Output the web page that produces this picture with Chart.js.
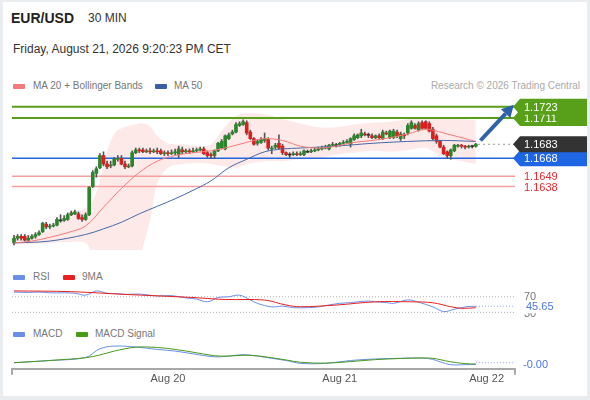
<!DOCTYPE html>
<html>
<head>
<meta charset="utf-8">
<script src="https://cdn.jsdelivr.net/npm/chart.js@4.4.1/dist/chart.umd.min.js"></script>
<style>
  html, body { margin: 0; padding: 0; width: 590px; height: 400px; background: #e9edf0; font-family: "Liberation Sans", Arial, sans-serif; overflow: hidden; }
  #card { position: absolute; left: 3px; top: 2px; width: 584px; height: 394px; background: #fff; }
  .t { position: absolute; white-space: nowrap; line-height: 1; }
  .sw { position: absolute; width: 12px; height: 5px; border-radius: 1px; }
  .leg { font-size: 10px; color: #777; }
  canvas { position: absolute; left: 0; }
</style>
</head>
<body>
<div id="card"></div>
<div class="t" style="left:11px;top:11px;font-size:14px;font-weight:bold;color:#222">EUR/USD</div>
<div class="t" style="left:88px;top:12px;font-size:12px;color:#333">30 MIN</div>
<div class="t" style="left:13px;top:43px;font-size:12px;color:#333">Friday, August 21, 2026 9:20:23 PM CET</div>

<span class="sw" style="left:13px;top:84px;background:#f47a7a"></span>
<div class="t leg" style="left:33px;top:81px">MA 20 + Bollinger Bands</div>
<span class="sw" style="left:155px;top:84px;background:#3b5fa0"></span>
<div class="t leg" style="left:174px;top:81px">MA 50</div>
<div class="t leg" style="right:10px;top:81px;color:#aaa">Research © 2026 Trading Central</div>

<span class="sw" style="left:13px;top:275px;background:#6b8fe6"></span>
<div class="t leg" style="left:33px;top:272px">RSI</div>
<span class="sw" style="left:63px;top:275px;background:#e82020"></span>
<div class="t leg" style="left:82px;top:272px">9MA</div>

<span class="sw" style="left:13px;top:332px;background:#6b8fe6"></span>
<div class="t leg" style="left:33px;top:329px">MACD</div>
<span class="sw" style="left:76px;top:332px;background:#4a9a1a"></span>
<div class="t leg" style="left:95px;top:329px">MACD Signal</div>

<canvas id="cPrice" width="590" height="160" style="top:95px"></canvas>
<canvas id="cRsi" width="590" height="40" style="top:280px"></canvas>
<canvas id="cMacd" width="590" height="60" style="top:335px"></canvas>

<script>
// 30 min candles, oldest first
const opens = [
  1.1578,1.1583,1.1585,1.1585,1.1581,1.1583,1.1585,1.1587,1.1590,1.1598,
  1.1595,1.1596,1.1597,1.1602,1.1602,1.1603,1.1608,1.1609,1.1609,1.1605,
  1.1603,1.1608,1.1638,1.1652,1.1658,1.1671,1.1662,1.1660,1.1661,1.1667,
  1.1668,1.1662,1.1659,1.1660,1.1674,1.1677,1.1677,1.1675,1.1676,1.1675,
  1.1676,1.1676,1.1673,1.1674,1.1673,1.1674,1.1672,1.1677,1.1675,1.1676,
  1.1675,1.1676,1.1677,1.1678,1.1674,1.1672,1.1671,1.1676,1.1679,1.1678,
  1.1689,1.1694,1.1696,1.1703,1.1704,1.1706,1.1696,1.1689,1.1684,1.1685,
  1.1687,1.1688,1.1678,1.1680,1.1684,1.1681,1.1674,1.1672,1.1672,1.1673,
  1.1672,1.1672,1.1675,1.1675,1.1676,1.1677,1.1678,1.1679,1.1678,1.1682,
  1.1682,1.1682,1.1684,1.1685,1.1683,1.1688,1.1690,1.1692,1.1694,1.1693,
  1.1692,1.1690,1.1692,1.1689,1.1695,1.1690,1.1690,1.1696,1.1689,1.1693,
  1.1695,1.1700,1.1703,1.1698,1.1706,1.1707,1.1705,1.1699,1.1692,1.1686,
  1.1680,1.1675,1.1671,1.1676,1.1681,1.1682,1.1681,1.1680,1.1681,1.1681
];
const highs = [
  1.1586,1.1587,1.1587,1.1587,1.1586,1.1587,1.1589,1.1591,1.1600,1.1600,
  1.1598,1.1599,1.1605,1.1608,1.1607,1.1610,1.1612,1.1613,1.1611,1.1608,
  1.1610,1.1638,1.1655,1.1659,1.1673,1.1675,1.1665,1.1665,1.1669,1.1671,
  1.1671,1.1665,1.1662,1.1676,1.1679,1.1679,1.1679,1.1678,1.1679,1.1678,
  1.1679,1.1678,1.1676,1.1676,1.1677,1.1678,1.1681,1.1680,1.1678,1.1678,
  1.1679,1.1679,1.1680,1.1680,1.1676,1.1674,1.1677,1.1685,1.1688,1.1693,
  1.1695,1.1698,1.1706,1.1707,1.1709,1.1708,1.1698,1.1690,1.1688,1.1690,
  1.1695,1.1690,1.1681,1.1684,1.1693,1.1683,1.1675,1.1674,1.1675,1.1675,
  1.1675,1.1677,1.1677,1.1678,1.1679,1.1680,1.1681,1.1682,1.1683,1.1685,
  1.1684,1.1685,1.1687,1.1688,1.1690,1.1694,1.1694,1.1699,1.1696,1.1695,
  1.1694,1.1693,1.1694,1.1698,1.1697,1.1698,1.1699,1.1698,1.1696,1.1695,
  1.1705,1.1708,1.1705,1.1707,1.1708,1.1708,1.1707,1.1701,1.1694,1.1687,
  1.1682,1.1676,1.1678,1.1683,1.1683,1.1683,1.1682,1.1682,1.1682,1.1684
];
const lows = [
  1.1576,1.1581,1.1581,1.1580,1.1580,1.1582,1.1583,1.1586,1.1589,1.1593,
  1.1593,1.1595,1.1596,1.1600,1.1601,1.1602,1.1607,1.1608,1.1603,1.1601,
  1.1602,1.1607,1.1637,1.1648,1.1657,1.1660,1.1657,1.1658,1.1660,1.1665,
  1.1661,1.1657,1.1658,1.1659,1.1673,1.1674,1.1674,1.1674,1.1673,1.1674,
  1.1673,1.1672,1.1671,1.1671,1.1672,1.1672,1.1669,1.1673,1.1674,1.1673,
  1.1674,1.1675,1.1676,1.1672,1.1669,1.1668,1.1668,1.1675,1.1678,1.1677,
  1.1688,1.1693,1.1695,1.1702,1.1703,1.1693,1.1688,1.1682,1.1682,1.1684,
  1.1685,1.1677,1.1673,1.1678,1.1678,1.1672,1.1671,1.1669,1.1671,1.1671,
  1.1671,1.1671,1.1674,1.1674,1.1675,1.1676,1.1677,1.1678,1.1677,1.1681,
  1.1680,1.1681,1.1683,1.1684,1.1680,1.1687,1.1689,1.1690,1.1692,1.1690,
  1.1689,1.1689,1.1689,1.1688,1.1693,1.1689,1.1689,1.1690,1.1687,1.1689,
  1.1693,1.1699,1.1699,1.1697,1.1699,1.1699,1.1696,1.1688,1.1684,1.1679,
  1.1672,1.1668,1.1667,1.1675,1.1680,1.1679,1.1678,1.1679,1.1679,1.1680
];
const closes = [
  1.1583,1.1585,1.1583,1.1581,1.1583,1.1585,1.1587,1.1589,1.1599,1.1595,
  1.1596,1.1597,1.1603,1.1602,1.1604,1.1608,1.1610,1.1611,1.1604,1.1603,
  1.1608,1.1637,1.1653,1.1657,1.1671,1.1662,1.1659,1.1661,1.1667,1.1668,
  1.1662,1.1659,1.1660,1.1674,1.1677,1.1676,1.1675,1.1676,1.1675,1.1676,
  1.1675,1.1673,1.1674,1.1673,1.1674,1.1675,1.1678,1.1675,1.1676,1.1675,
  1.1676,1.1677,1.1678,1.1673,1.1671,1.1671,1.1676,1.1684,1.1686,1.1692,
  1.1693,1.1696,1.1704,1.1705,1.1707,1.1695,1.1689,1.1683,1.1686,1.1688,
  1.1689,1.1679,1.1679,1.1682,1.1679,1.1674,1.1672,1.1672,1.1673,1.1672,
  1.1673,1.1676,1.1675,1.1676,1.1677,1.1678,1.1679,1.1680,1.1682,1.1683,
  1.1682,1.1684,1.1685,1.1686,1.1689,1.1692,1.1693,1.1695,1.1693,1.1693,
  1.1690,1.1692,1.1690,1.1696,1.1694,1.1697,1.1697,1.1692,1.1694,1.1692,
  1.1703,1.1706,1.1700,1.1705,1.1700,1.1700,1.1697,1.1689,1.1686,1.1680,
  1.1673,1.1671,1.1677,1.1682,1.1682,1.1681,1.1680,1.1681,1.1681,1.1683
];

// x axis: candle index, day labels
const dayTickIdx = [43, 91, 132];
const dayTickLabels = ['Aug 20', 'Aug 21', 'Aug 22'];

// overlays (candle index -> value)
const ma20Idx = [0,5,10,15,20,25,30,35,40,45,50,55,60,65,70,75,80,85,90,95,100,105,110,115,118,122,126,129];
const ma20Val = [1.1578,1.1580,1.1584,1.1589,1.1596,1.1616,1.1636,1.1653,1.1665,1.1671,1.1674,1.1676,1.1680,1.1685,
                 1.1689,1.1687,1.1681,1.1679,1.1681,1.1685,1.1687,1.1690,1.1694,1.1699,1.1697,1.1693,1.1689,1.1686];
const ma50Idx = [0,10,20,25,30,35,40,45,50,55,60,65,70,75,80,90,100,110,120,129];
const ma50Val = [1.1578,1.1580,1.1587,1.1593,1.1600,1.1609,1.1617,1.1625,1.1634,1.1644,
                 1.1658,1.1667,1.1675,1.1678,1.1679,1.1681,1.1684,1.1686,1.1687,1.1686];
const bandIdx = [0,5,10,15,20,22,24,26,28,30,35,36,38,40,43,47,52,55,58,62,65,70,75,80,85,90,95,100,105,110,115,120,125,129];
const bandUpper = [1.1585,1.1586,1.1592,1.1609,1.1615,1.1623,1.1644,1.1676,1.1694,1.1700,1.1705,1.1705,1.1702,1.1692,
                   1.1684,1.1683,1.1681,1.1683,1.1697,1.1713,1.1716,1.1715,1.1710,1.1705,1.1701,1.1701,1.1704,1.1706,
                   1.1707,1.1710,1.1711,1.1711,1.1710,1.1709];
const bandLower = [1.1577,1.1577,1.1578,1.1579,1.1578,1.1566,1.1560,1.1560,1.1560,1.1560,1.1563,1.1574,1.1602,1.1641,
                   1.1658,1.1662,1.1663,1.1662,1.1660,1.1658,1.1662,1.1665,1.1665,1.1667,1.1668,1.1672,1.1674,1.1676,
                   1.1675,1.1677,1.1679,1.1669,1.1665,1.1662];

// support / resistance
const resistLevels = [1.1723, 1.1711];
const pivotLevel = 1.1668;
const supportLevels = [1.1649, 1.1638];

// RSI + 9MA
const rsiIdx = [0,4,7,10,14,17,20,23,26,29,31,35,40,44,48,51,54,57,60,63,66,68,72,75,78,82,85,88,91,94,96,99,101,104,106,110,113,117,120,123,126,129];
const rsiVal = [82,81,82,80,80,79,74,85,79,78,76,77,72,73,67,64,57,68,70,74,62,53,44,46,42,42,44,49,53,55,57,59,57,55,53,62,56,44,32,38,44,45.65];
const rsiMaIdx = [0,16,31,49,59,70,76,80,90,101,111,117,122,125,129];
const rsiMaVal = [85,83,76,68.5,63,61.5,48.7,44.4,48.7,57,57,54.6,44.4,40.3,41.8];
const rsiLevels = [70, 30];

// MACD + signal
const macdIdx = [0,10,20,24,28,34,40,45,50,56,60,64,68,72,76,80,87,94,101,108,114,117,119,122,126,129];
const macdVal = [0,0.0002,0.00047,0.00126,0.0015,0.00142,0.0012,0.00105,0.0008,0.00053,0.0006,0.00073,0.0006,
                 0.00039,0.0002,-0.00006,-0.00006,0.0002,0.00034,0.0004,0.00042,0.0003,0.00008,-0.00018,-0.00018,-0.00016];
const signalIdx = [0,10,20,24,28,34,40,45,50,56,60,64,68,72,76,80,87,94,101,108,114,117,119,122,126,129];
const signalVal = [0,0.0002,0.00045,0.0007,0.00105,0.0014,0.00138,0.0012,0.00095,0.00063,0.0006,0.00067,0.00062,
                   0.00045,0.00025,0.00004,-0.00004,0.0001,0.00028,0.00038,0.00043,0.0004,0.00028,0.00008,-0.00008,-0.00012];

const FONT = '"Liberation Sans", Arial, sans-serif';
const xMin = -0.56, xMax = 139.94;
const lastIdx = closes.length - 1;
const lastClose = closes[lastIdx];

const pts = (idx, vals) => idx.map((x, k) => ({ x: x, y: vals[k] }));
const hline = (y, color, width, from, dash) => ({
  type: 'line', data: [{ x: from, y: y }, { x: xMax, y: y }],
  borderColor: color, borderWidth: width, borderDash: dash || [], pointRadius: 0, order: 8
});
const curve = (data, color, order) => ({
  type: 'line', data: data, borderColor: color, borderWidth: 1, pointRadius: 0, tension: 0.35, order: order
});

function xScale(show) {
  return {
    type: 'linear', min: xMin, max: xMax, offset: false, bounds: 'data', display: show,
    grid: { display: false, drawTicks: false, offset: false },
    border: { display: true, color: '#a8a8a8', width: 2 },
    afterBuildTicks: s => { s.ticks = dayTickIdx.map(v => ({ value: v })); },
    ticks: { padding: 4, color: '#555', autoSkip: false, maxRotation: 0,
             font: { size: 11, family: FONT }, callback: (v, i) => dayTickLabels[i] }
  };
}

// candle bodies and wicks as floating bars
const bodyData = closes.map((c, i) => {
  const lo = Math.min(opens[i], c), hi = Math.max(opens[i], c);
  return { x: i, y: hi - lo < 0.00005 ? [lo - 0.00005, hi + 0.00005] : [lo, hi] };
});
const bodyColors = closes.map((c, i) => c > opens[i] ? '#2a862a' : (c < opens[i] ? '#d91f1f' : '#333'));
const wickData = closes.map((c, i) => ({ x: i, y: [lows[i], highs[i]] }));

function badge(ctx, x, y, text, fill) {
  const r = 587, h = 8;
  ctx.beginPath();
  ctx.moveTo(x, y); ctx.lineTo(x + 7, y - h); ctx.lineTo(r, y - h);
  ctx.lineTo(r, y + h); ctx.lineTo(x + 7, y + h); ctx.closePath();
  ctx.fillStyle = fill; ctx.fill();
  ctx.fillStyle = '#fff';
  ctx.fillText(text, x + 11, y + 1);
}

const priceDecor = {
  id: 'priceDecor',
  afterDatasetsDraw(chart) {
    const ctx = chart.ctx, xs = chart.scales.x, ys = chart.scales.y, a = chart.chartArea;
    ctx.save();
    // forecast arrow
    const sx = xs.getPixelForValue(130.3), sy = ys.getPixelForValue(1.1687);
    const ex = xs.getPixelForValue(139.6), ey = ys.getPixelForValue(1.1725);
    const ang = Math.atan2(ey - sy, ex - sx), hl = 12, hw = 6.5;
    const bx = ex - hl * Math.cos(ang), by = ey - hl * Math.sin(ang);
    ctx.strokeStyle = '#2f62a8'; ctx.lineWidth = 4; ctx.lineCap = 'butt';
    ctx.beginPath(); ctx.moveTo(sx, sy); ctx.lineTo(bx, by); ctx.stroke();
    ctx.fillStyle = '#2f62a8';
    ctx.beginPath(); ctx.moveTo(ex, ey);
    ctx.lineTo(bx + hw * Math.sin(ang), by - hw * Math.cos(ang));
    ctx.lineTo(bx - hw * Math.sin(ang), by + hw * Math.cos(ang));
    ctx.closePath(); ctx.fill();

    // right side labels
    ctx.font = '11px ' + FONT; ctx.textBaseline = 'middle'; ctx.textAlign = 'left';
    const bxl = a.right - 2;
    badge(ctx, bxl, ys.getPixelForValue(resistLevels[1]), resistLevels[1].toFixed(4), '#58a01a');
    badge(ctx, bxl, ys.getPixelForValue(resistLevels[0]), resistLevels[0].toFixed(4), '#58a01a');
    badge(ctx, bxl, ys.getPixelForValue(pivotLevel), pivotLevel.toFixed(4), '#1f66e5');
    badge(ctx, bxl, ys.getPixelForValue(lastClose), lastClose.toFixed(4), '#333');
    ctx.fillStyle = '#e8282d';
    supportLevels.forEach(v => ctx.fillText(v.toFixed(4), a.right + 9, ys.getPixelForValue(v) + 1));
    ctx.restore();
  }
};

new Chart(document.getElementById('cPrice'), {
  type: 'bar',
  data: {
    datasets: [
      { type: 'line', data: pts(bandIdx, bandUpper), borderColor: 'rgba(0,0,0,0)', borderWidth: 0,
        backgroundColor: 'rgba(250,170,170,0.26)', fill: '+1', pointRadius: 0, tension: 0.35, order: 10 },
      { type: 'line', data: pts(bandIdx, bandLower), borderColor: 'rgba(0,0,0,0)', borderWidth: 0,
        fill: false, pointRadius: 0, tension: 0.35, order: 10 },
      hline(resistLevels[0], '#58a01a', 2, xMin),
      hline(resistLevels[1], '#58a01a', 2, xMin),
      hline(pivotLevel, '#2266dd', 1.5, xMin),
      hline(supportLevels[0], '#f5a0a0', 1.5, xMin),
      hline(supportLevels[1], '#f5a0a0', 1.5, xMin),
      hline(lastClose, '#999', 1, lastIdx + 0.6, [2, 3]),
      { type: 'bar', data: wickData, backgroundColor: '#555', barThickness: 1, grouped: false, order: 6 },
      { type: 'bar', data: bodyData, backgroundColor: bodyColors, barThickness: 3, grouped: false, order: 5 },
      curve(pts(ma20Idx, ma20Val), '#f47a7a', 2),
      curve(pts(ma50Idx, ma50Val), '#4568a8', 2)
    ]
  },
  options: {
    responsive: false, animation: false, events: [],
    layout: { padding: { left: 12, right: 75, top: 5, bottom: 5 } },
    plugins: { legend: { display: false }, tooltip: { enabled: false } },
    scales: {
      x: xScale(false),
      y: { type: 'linear', display: false, min: 1.15705, max: 1.17301, beginAtZero: false }
    }
  },
  plugins: [priceDecor]
});

const rsiDecor = {
  id: 'rsiDecor',
  afterDraw(chart) {
    const ctx = chart.ctx, ys = chart.scales.y, x0 = chart.chartArea.right + 9;
    const last = rsiVal[rsiVal.length - 1];
    ctx.save();
    ctx.font = '11px ' + FONT; ctx.textBaseline = 'middle';
    ctx.fillStyle = '#777';
    ctx.fillText(String(rsiLevels[0]), x0, ys.getPixelForValue(rsiLevels[0]));
    ctx.fillText(String(rsiLevels[1]), x0, ys.getPixelForValue(rsiLevels[1]) + 2);
    const yv = ys.getPixelForValue(last);
    ctx.fillStyle = '#fff'; ctx.fillRect(x0, yv - 6, 34, 13);
    ctx.fillStyle = '#4e78e0'; ctx.fillText(last.toFixed(2), x0 + 2, yv + 1);
    ctx.restore();
  }
};

new Chart(document.getElementById('cRsi'), {
  type: 'line',
  data: {
    datasets: [
      hline(rsiLevels[0], '#b0b0b0', 1, xMin, [1, 2]),
      hline(rsiLevels[1], '#b0b0b0', 1, xMin, [1, 2]),
      hline(rsiVal[rsiVal.length - 1], '#8aa4e8', 1, lastIdx, [1, 2]),
      curve(pts(rsiIdx, rsiVal), '#6b8fe6', 3),
      curve(pts(rsiMaIdx, rsiMaVal), '#e82020', 2)
    ]
  },
  options: {
    responsive: false, animation: false, events: [],
    layout: { padding: { left: 12, right: 75, top: 7, bottom: 3.75 } },
    plugins: { legend: { display: false }, tooltip: { enabled: false } },
    scales: { x: xScale(false), y: { type: 'linear', display: false, min: 20, max: 95 } }
  },
  plugins: [rsiDecor]
});

const macdDecor = {
  id: 'macdDecor',
  afterDraw(chart) {
    const ctx = chart.ctx, ys = chart.scales.y, a = chart.chartArea;
    const last = macdVal[macdVal.length - 1];
    ctx.save();
    ctx.strokeStyle = '#a8a8a8'; ctx.lineWidth = 2;
    [a.left, a.right].forEach(x => { ctx.beginPath(); ctx.moveTo(x, a.bottom); ctx.lineTo(x, a.bottom + 6); ctx.stroke(); });
    ctx.font = '11px ' + FONT; ctx.textBaseline = 'middle';
    ctx.fillStyle = '#4e78e0';
    ctx.fillText(last.toFixed(2), a.right + 8, ys.getPixelForValue(0) + 2);
    ctx.restore();
  }
};

new Chart(document.getElementById('cMacd'), {
  type: 'line',
  data: {
    datasets: [
      hline(0, '#8aa4e8', 1, lastIdx, [1, 2]),
      curve(pts(macdIdx, macdVal), '#6b8fe6', 3),
      curve(pts(signalIdx, signalVal), '#4a9a1a', 2)
    ]
  },
  options: {
    responsive: false, animation: false, events: [],
    layout: { padding: { left: 12, right: 75, top: 5, bottom: 5 } },
    plugins: { legend: { display: false }, tooltip: { enabled: false } },
    scales: { x: xScale(true), y: { type: 'linear', display: false, min: -0.00055, max: 0.00205 } }
  },
  plugins: [macdDecor]
});
</script>
</body>
</html>
